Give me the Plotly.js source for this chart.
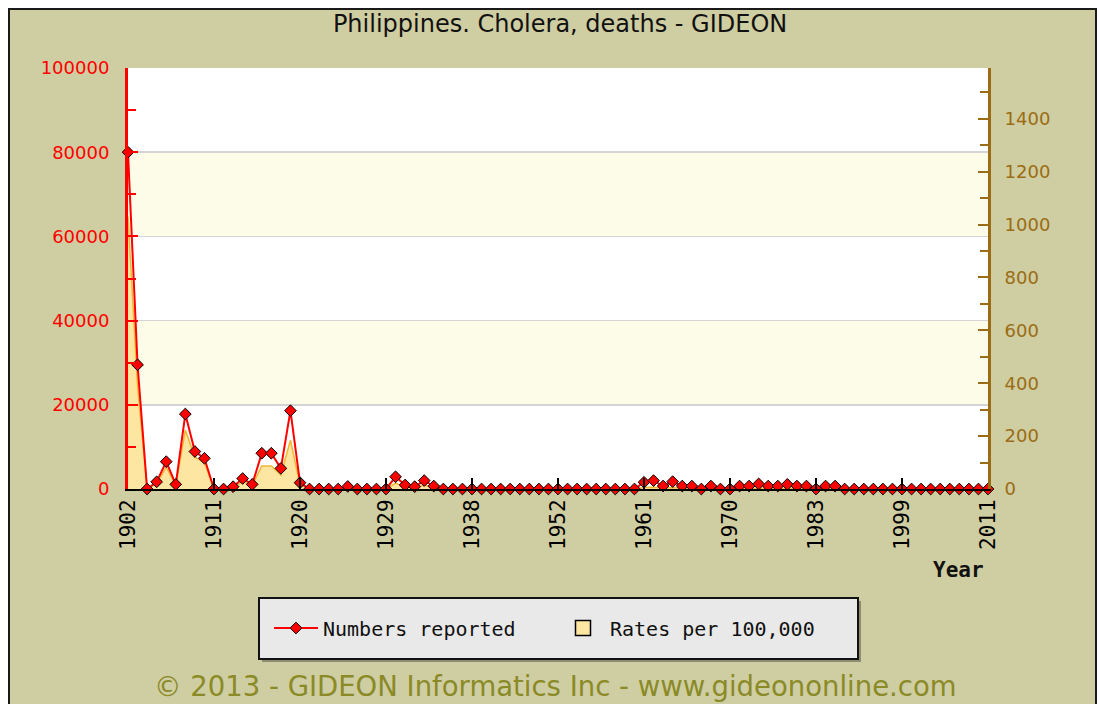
<!DOCTYPE html>
<html><head><meta charset="utf-8">
<script src="https://cdn.plot.ly/plotly-3.0.1.min.js"></script>
<style>
html,body{margin:0;padding:0;background:#fff;overflow:hidden;width:1099px;height:704px}
#frame{position:absolute;left:8px;top:8px;width:1085px;height:700px;border:2px solid #1a1a1a;border-bottom:none;background:#cfcda2}
#chart{width:1085px;height:700px}
</style></head><body>
<div id="frame"><div id="chart"></div></div>
<script>
const years = [
 '1902','1903','1904','1905','1906','1907','1908','1909','1910','1911',
 '1912','1913','1914','1915','1916','1917','1918','1919','1920','1921',
 '1922','1923','1924','1925','1926','1927','1928','1929','1930','1931',
 '1932','1933','1934','1935','1936','1937','1938',
 '1939','1940','1941','1947','1948','1949','1950','1951',
 '1952','1953','1954','1955','1956','1957','1958','1959','1960','1961',
 '1962','1963','1964','1965','1966','1967','1968','1969','1970',
 '1971','1972','1973','1974','1975','1976','1977','1978',
 '1983',
 '1984','1985','1986','1987','1988','1989','1990','1991',
 '1999',
 '2000','2001','2002','2003','2004','2005','2006','2007',
 '2011'];
const numbersReported = [
 80000,29500,0,1700,6500,1100,17800,8900,7300,0,
 0,550,2500,1100,8500,8500,4900,18600,1500,0,
 0,0,0,600,0,0,0,0,2900,950,
 550,2000,700,0,0,0,0,
 0,0,0,0,0,0,0,0,
 0,0,0,0,0,0,0,0,0,1600,
 2000,700,1750,700,700,0,700,0,0,
 700,700,1200,700,700,1100,700,700,
 0,
 700,700,0,0,0,0,0,0,
 0,
 0,0,0,0,0,0,0,0,
 0];
const ratesPer100k = [
 1030,390,0,22,83,14,223,120,100,0,
 0,7,28,13,87,87,53,185,15,0,
 0,0,0,5,0,0,0,0,22,7,
 4,15,5,0,0,0,0,
 0,0,0,0,0,0,0,0,
 0,0,0,0,0,0,0,0,0,6,
 7,2.5,6,2.3,2.2,0,2,0,0,
 1.9,1.8,3,1.7,1.6,2.5,1.6,1.5,
 0,
 1.4,1.3,0,0,0,0,0,0,
 0,
 0,0,0,0,0,0,0,0,
 0];
const tickYears = ['1902','1911','1920','1929','1938','1952','1961','1970','1983','1999','2011'];

const RED = '#ff0000', BROWN = '#9b6c13';
const W = 1085, H = 700, L = 118, R = 107, T = 58, B = 221;
const pw = W - L - R, ph = H - T - B;
const px = v => (v - L) / pw;          // div px -> paper x
const py = v => (H - B - v) / ph;      // div px -> paper y

const traces = [
  {x: years, y: ratesPer100k, type: 'scatter', mode: 'lines', yaxis: 'y',
   fill: 'tozeroy', fillcolor: '#fde6a2', line: {color: '#f2b632', width: 1.5},
   showlegend: false, hoverinfo: 'skip', name: 'Rates per 100,000'},
  {x: years, y: numbersReported, type: 'scatter', mode: 'lines+markers', yaxis: 'y2',
   name: 'Numbers reported', cliponaxis: false,
   line: {color: RED, width: 2},
   marker: {symbol: 'diamond', size: 9, color: RED, line: {color: '#000', width: 1}}},
  {x: [null], y: [null], type: 'scatter', mode: 'markers', yaxis: 'y',
   name: 'Rates per 100,000',
   marker: {symbol: 'square', size: 15, color: '#fde6a2', line: {color: '#000', width: 1.5}}}
];

const layout = {
  width: W, height: H,
  margin: {l: L, r: R, t: T, b: B, pad: 0},
  paper_bgcolor: '#cfcda2', plot_bgcolor: '#ffffff',
  title: {text: 'Philippines. Cholera, deaths - GIDEON', font: {family: 'DejaVu Sans', size: 24, color: '#111'},
          x: 0.507, xanchor: 'center', y: 1 - 14 / H, yanchor: 'middle', yref: 'container'},
  xaxis: {type: 'category', categoryorder: 'array', categoryarray: years,
          range: [0, years.length - 1], tickmode: 'array', tickvals: tickYears, ticktext: tickYears,
          tickangle: -90, ticks: 'inside', ticklen: 11, tickwidth: 2, tickcolor: '#000',
          showline: true, linecolor: '#000', linewidth: 2, showgrid: false, zeroline: false,
          tickfont: {family: 'DejaVu Sans Mono', size: 21, color: '#000'}},
  yaxis: {side: 'right', range: [0, 1592], dtick: 200, tick0: 0, showgrid: false, zeroline: false,
          tickformat: 'd',
          showline: true, linecolor: BROWN, linewidth: 3, ticks: 'inside', ticklen: 10, tickwidth: 2,
          tickcolor: BROWN, ticklabelstandoff: 10,
          minor: {dtick: 100, ticks: 'inside', ticklen: 8, tickwidth: 2, tickcolor: BROWN, showgrid: false},
          tickfont: {family: 'DejaVu Sans', size: 18, color: BROWN}},
  yaxis2: {overlaying: 'y', side: 'left', range: [0, 100000], dtick: 20000, tick0: 0,
           tickformat: 'd',
           showgrid: true, gridcolor: '#d4d4d4', gridwidth: 1.5, zeroline: false,
           showline: true, linecolor: RED, linewidth: 3, ticks: 'inside', ticklen: 10, tickwidth: 2,
           tickcolor: RED, ticklabelstandoff: 12,
           minor: {dtick: 10000, ticks: 'inside', ticklen: 8, tickwidth: 2, tickcolor: RED, showgrid: false},
           tickfont: {family: 'DejaVu Sans', size: 18, color: RED}},
  shapes: [
    {type: 'rect', xref: 'paper', yref: 'y2', x0: 0, x1: 1, y0: 20000, y1: 40000, fillcolor: '#fcfce8', line: {width: 0}, layer: 'below'},
    {type: 'rect', xref: 'paper', yref: 'y2', x0: 0, x1: 1, y0: 60000, y1: 80000, fillcolor: '#fcfce8', line: {width: 0}, layer: 'below'},
    {type: 'rect', xref: 'paper', yref: 'paper', x0: px(252), x1: px(851), y0: py(652), y1: py(591), fillcolor: '#8d8c70', line: {width: 0}, layer: 'above'},
    {type: 'rect', xref: 'paper', yref: 'paper', x0: px(249), x1: px(848), y0: py(649), y1: py(588), fillcolor: '#e9e9e9', line: {color: '#111', width: 2}, layer: 'above'}
  ],
  legend: {orientation: 'h', x: px(259), xanchor: 'left', y: py(618), yanchor: 'middle',
           bgcolor: 'rgba(0,0,0,0)', borderwidth: 0, itemwidth: 44, entrywidth: 228,
           font: {family: 'DejaVu Sans Mono', size: 20, color: '#111'}},
  annotations: [
    {text: '<b>Year</b>', xref: 'paper', yref: 'paper', x: px(976), y: py(560), xanchor: 'right', yanchor: 'middle',
     showarrow: false, font: {family: 'DejaVu Sans Mono', size: 21, color: '#111'}},
    {text: '© 2013 - GIDEON Informatics Inc - www.gideononline.com', xref: 'paper', yref: 'paper',
     x: px(545), y: py(676), xanchor: 'center', yanchor: 'middle', showarrow: false,
     font: {family: 'DejaVu Sans', size: 27.5, color: '#8a8a26'}}
  ],
  hovermode: false
};

Plotly.newPlot('chart', traces, layout, {displayModeBar: false, staticPlot: true});
</script>
</body></html>
